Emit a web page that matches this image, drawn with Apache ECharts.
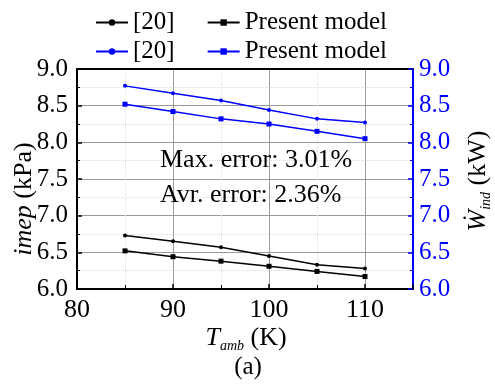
<!DOCTYPE html>
<html><head><meta charset="utf-8">
<script src="https://cdn.jsdelivr.net/npm/echarts@6/dist/echarts.min.js"></script>
<style>html,body{margin:0;padding:0;background:#fff}#c{width:495px;height:385px}</style>
</head><body><div id="c"></div>
<script>
const temps = [85, 90, 95, 100, 105, 110];
const imepRef = [6.73, 6.65, 6.57, 6.45, 6.33, 6.28];
const imepModel = [6.52, 6.44, 6.38, 6.31, 6.24, 6.17];
const wRef = [8.77, 8.67, 8.57, 8.44, 8.32, 8.27];
const wModel = [8.52, 8.42, 8.32, 8.25, 8.15, 8.05];
const legendLabels = {ref_imep: '[20]', model_imep: 'Present model', ref_w: '[20]', model_w: 'Present model'};
const notes = ['Max. error: 3.01%', 'Avr. error: 2.36%'];

const FF = 'Liberation Serif';
const BLUE = '#0000ff';
const chart = echarts.init(document.getElementById('c'));
const pair = arr => temps.map((t, i) => [t, arr[i]]);

function series(name, data, color, symbol, size, yIdx) {
  return {
    name, type: 'line', yAxisIndex: yIdx, data: pair(data),
    symbol, symbolSize: size, showSymbol: true,
    lineStyle: {color, width: 1.5}, itemStyle: {color},
    animation: false, z: 5
  };
}

const yAx = (pos, color, fam) => ({
  type: 'value', position: pos, min: 6, max: 9, interval: 0.5,
  axisLine: {show: true, lineStyle: {color, width: 2}},
  axisTick: {show: true, inside: true, length: 5, lineStyle: {color, width: 1.5}},
  minorTick: {show: true, splitNumber: 2, length: 3, lineStyle: {color, width: 1}},
  axisLabel: {color, fontFamily: fam, fontSize: 25, margin: pos === 'left' ? 9 : 6,
    formatter: v => v.toFixed(1)},
  splitLine: {show: pos === 'left', lineStyle: {color: '#9a9a9a', width: 1}},
  minorSplitLine: {show: pos === 'left', lineStyle: {color: '#dcdcdc', type: 'dotted', width: 1}}
});

chart.setOption({
  backgroundColor: '#fff',
  animation: false,
  textStyle: {fontFamily: FF},
  grid: {left: 77, right: 82, top: 69, bottom: 96},
  legend: [
    {data: ['ref_imep', 'model_imep'], left: 95, top: 10, padding: 0, itemWidth: 32, itemHeight: 8, itemGap: 32,
     formatter: n => legendLabels[n], textStyle: {fontFamily: FF, fontSize: 25, color: '#000'}},
    {data: ['ref_w', 'model_w'], left: 95, top: 39, padding: 0, itemWidth: 32, itemHeight: 8, itemGap: 32,
     formatter: n => legendLabels[n], textStyle: {fontFamily: FF, fontSize: 25, color: '#000'}}
  ],
  xAxis: [{
    type: 'value', min: 80, max: 115, interval: 10, position: 'bottom',
    axisLine: {show: true, onZero: false, lineStyle: {color: '#000', width: 2}},
    axisTick: {show: true, inside: true, length: 5, lineStyle: {color: '#000', width: 1.5}},
    minorTick: {show: true, splitNumber: 2, length: 4, lineStyle: {color: '#000', width: 1}},
    axisLabel: {color: '#000', fontFamily: 'Times New Roman', fontSize: 26, margin: 8, showMaxLabel: false},
    splitLine: {show: true, lineStyle: {color: '#9a9a9a', width: 1}},
    minorSplitLine: {show: true, lineStyle: {color: '#dcdcdc', type: 'dotted', width: 1}}
  }, {
    type: 'value', min: 80, max: 115, interval: 10, position: 'top',
    axisLine: {show: true, onZero: false, lineStyle: {color: '#000', width: 2}},
    axisTick: {show: false}, axisLabel: {show: false}, splitLine: {show: false}
  }],
  yAxis: [yAx('left', '#000', "'Liberation Serif', serif"), yAx('right', BLUE, 'serif')],
  series: [
    series('ref_imep', imepRef, '#000', 'circle', 4, 0),
    series('model_imep', imepModel, '#000', 'rect', 5, 0),
    series('ref_w', wRef, BLUE, 'circle', 4, 1),
    series('model_w', wModel, BLUE, 'rect', 5, 1)
  ],
  graphic: [
    {type: 'text', left: 160, top: 147, z: 10, style: {text: notes[0], font: '26px ' + FF, fill: '#000'}},
    {type: 'text', left: 160, top: 182, z: 10, style: {text: notes[1], font: '26px ' + FF, fill: '#000'}},
    {type: 'text', x: 24, y: 199, rotation: Math.PI / 2, z: 10,
     style: {text: '{i|imep} (kPa)', font: '26px ' + FF, fill: '#000', align: 'center', verticalAlign: 'middle',
       rich: {i: {fontStyle: 'italic', fontFamily: FF, fontSize: 26}}}},
    {type: 'text', x: 478, y: 181, rotation: Math.PI / 2, z: 10,
     style: {text: '{w|W\u0307}{s|ind} (kW)', font: '26px ' + FF, fill: '#000', align: 'center', verticalAlign: 'middle',
       rich: {w: {fontStyle: 'italic', fontFamily: FF, fontSize: 26, lineHeight: 30},
              s: {fontStyle: 'italic', fontFamily: FF, fontSize: 14, lineHeight: 14, verticalAlign: 'bottom'}}}},
    {type: 'text', x: 246, y: 338, z: 10,
     style: {text: '{t|T}{s|amb} (K)', font: '26px ' + FF, fill: '#000', align: 'center', verticalAlign: 'middle',
       rich: {t: {fontStyle: 'italic', fontFamily: FF, fontSize: 26, lineHeight: 30},
              s: {fontStyle: 'italic', fontFamily: FF, fontSize: 14, lineHeight: 14, verticalAlign: 'bottom'}}}},
    {type: 'text', x: 248, y: 367, z: 10,
     style: {text: '(a)', font: '25px ' + FF, fill: '#000', align: 'center', verticalAlign: 'middle'}}
  ]
});
</script></body></html>
